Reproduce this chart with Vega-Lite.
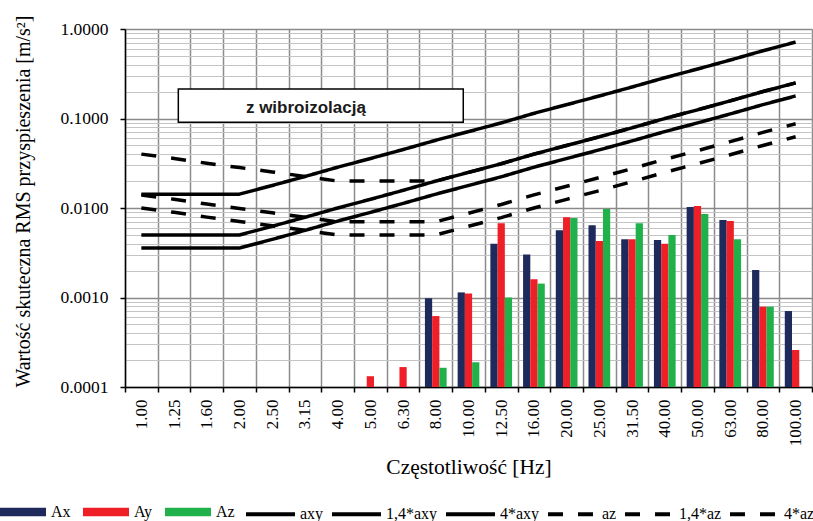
{
  "$schema": "https://vega.github.io/schema/vega-lite/v6.json",
  "width": 687,
  "height": 358,
  "autosize": {"type": "none"},
  "padding": {"left": 125, "top": 29, "right": 1, "bottom": 134},
  "background": "white",
  "config": {
    "font": "Liberation Serif",
    "view": {"stroke": null}
  },
  "layer": [
    {
      "encoding": {
        "x": {
          "field": "f",
          "type": "nominal",
          "sort": null,
          "scale": {
            "type": "band",
            "domain": ["1.00", "1.25", "1.60", "2.00", "2.50", "3.15", "4.00", "5.00", "6.30", "8.00", "10.00", "12.50", "16.00", "20.00", "25.00", "31.50", "40.00", "50.00", "63.00", "80.00", "100.00"],
            "paddingInner": 0,
            "paddingOuter": 0
          },
          "title": "Częstotliwość [Hz]",
          "axis": {
            "orient": "bottom",
            "tickBand": "extent",
            "grid": true,
            "gridColor": "#8c8c8c",
            "gridWidth": 1.5,
            "labelAngle": -90,
            "labelFont": "Liberation Serif",
            "labelFontSize": 17,
            "labelColor": "black",
            "labelPadding": 7,
            "labelOverlap": false,
            "tickSize": 5,
            "tickColor": "black",
            "tickWidth": 1.5,
            "domainColor": "black",
            "domainWidth": 1.5,
            "titleFont": "Liberation Serif",
            "titleFontSize": 21.5,
            "titleFontWeight": "normal",
            "titleColor": "black",
            "titleY": 86,
            "titleBaseline": "alphabetic"
          }
        },
        "y": {
          "field": "v",
          "type": "quantitative",
          "scale": {"type": "log", "domain": [0.0001, 1], "nice": false},
          "title": "Wartość skuteczna RMS przyspieszenia [m/s²]",
          "axis": {
            "orient": "left",
            "values": [0.0001, 0.0002, 0.0003, 0.0004, 0.0005, 0.0006, 0.0007, 0.0008, 0.0009, 0.001, 0.002, 0.003, 0.004, 0.005, 0.006, 0.007, 0.008, 0.009, 0.01, 0.02, 0.03, 0.04, 0.05, 0.06, 0.07, 0.08, 0.09, 0.1, 0.2, 0.3, 0.4, 0.5, 0.6, 0.7, 0.8, 0.9, 1],
            "labelExpr": "abs(log(datum.value)/LN10 - round(log(datum.value)/LN10)) < 0.001 ? format(datum.value, '.4f') : ''",
            "labelOverlap": false,
            "labelFont": "Liberation Serif",
            "labelFontSize": 17.5,
            "labelColor": "black",
            "labelPadding": 12,
            "grid": true,
            "gridColor": {"condition": {"test": "abs(log(datum.value)/LN10 - round(log(datum.value)/LN10)) < 0.001", "value": "#8a8a8a"}, "value": "#c4c4c4"},
            "gridWidth": {"condition": {"test": "abs(log(datum.value)/LN10 - round(log(datum.value)/LN10)) < 0.001", "value": 1.5}, "value": 1.2},
            "tickOpacity": {"condition": {"test": "abs(log(datum.value)/LN10 - round(log(datum.value)/LN10)) < 0.001", "value": 1}, "value": 0},
            "tickSize": 5,
            "tickColor": "black",
            "tickWidth": 1.5,
            "domainColor": "black",
            "domainWidth": 1.5,
            "titleFont": "Liberation Serif",
            "titleFontSize": 20,
            "titleFontWeight": "normal",
            "titleColor": "black",
            "titleX": -96,
            "titleY": 172,
            "titleBaseline": "alphabetic"
          }
        }
      },
      "layer": [
        {
          "data": {
            "values": [
              {"f": "5.00", "s": "Ay", "v": 0.000132},
              {"f": "6.30", "s": "Ay", "v": 0.000167},
              {"f": "8.00", "s": "Ax", "v": 0.00098},
              {"f": "8.00", "s": "Ay", "v": 0.00062},
              {"f": "8.00", "s": "Az", "v": 0.000164},
              {"f": "10.00", "s": "Ax", "v": 0.00114},
              {"f": "10.00", "s": "Ay", "v": 0.00111},
              {"f": "10.00", "s": "Az", "v": 0.000189},
              {"f": "12.50", "s": "Ax", "v": 0.00399},
              {"f": "12.50", "s": "Ay", "v": 0.00675},
              {"f": "12.50", "s": "Az", "v": 0.0010},
              {"f": "16.00", "s": "Ax", "v": 0.00303},
              {"f": "16.00", "s": "Ay", "v": 0.0016},
              {"f": "16.00", "s": "Az", "v": 0.00143},
              {"f": "20.00", "s": "Ax", "v": 0.00563},
              {"f": "20.00", "s": "Ay", "v": 0.00787},
              {"f": "20.00", "s": "Az", "v": 0.00773},
              {"f": "25.00", "s": "Ax", "v": 0.0064},
              {"f": "25.00", "s": "Ay", "v": 0.00428},
              {"f": "25.00", "s": "Az", "v": 0.00975},
              {"f": "31.50", "s": "Ax", "v": 0.00447},
              {"f": "31.50", "s": "Ay", "v": 0.00447},
              {"f": "31.50", "s": "Az", "v": 0.00675},
              {"f": "40.00", "s": "Ax", "v": 0.00439},
              {"f": "40.00", "s": "Ay", "v": 0.00399},
              {"f": "40.00", "s": "Az", "v": 0.00499},
              {"f": "50.00", "s": "Ax", "v": 0.01026},
              {"f": "50.00", "s": "Ay", "v": 0.01053},
              {"f": "50.00", "s": "Az", "v": 0.00857},
              {"f": "63.00", "s": "Ax", "v": 0.00734},
              {"f": "63.00", "s": "Ay", "v": 0.00716},
              {"f": "63.00", "s": "Az", "v": 0.00447},
              {"f": "80.00", "s": "Ax", "v": 0.00203},
              {"f": "80.00", "s": "Ay", "v": 0.00079},
              {"f": "80.00", "s": "Az", "v": 0.00079},
              {"f": "100.00", "s": "Ax", "v": 0.000706},
              {"f": "100.00", "s": "Ay", "v": 0.000259}
            ]
          },
          "mark": {"type": "bar"},
          "encoding": {
            "y2": {"datum": 0.0001},
            "xOffset": {
              "field": "s",
              "type": "nominal",
              "scale": {"domain": ["Ax", "Ay", "Az"], "paddingInner": 0, "paddingOuter": 0.76}
            },
            "color": {
              "field": "s",
              "type": "nominal",
              "scale": {"domain": ["Ax", "Ay", "Az"], "range": ["#1f2a5c", "#ee1f26", "#21b14b"]},
              "legend": {
                "orient": "none",
                "legendX": -125,
                "legendY": 460,
                "direction": "horizontal",
                "title": null,
                "padding": 0,
                "symbolType": "M-1,-0.18H1V0.18H-1Z",
                "symbolSize": 2116,
                "symbolStrokeWidth": 0,
                "labelFont": "Liberation Serif",
                "labelFontSize": 16,
                "labelColor": "black",
                "labelOffset": 5,
                "columnPadding": 12
              }
            }
          }
        },
        {
          "data": {
            "values": [
              {"f": "1.00", "s": "axy", "v": 0.00357}, {"f": "1.25", "s": "axy", "v": 0.00357}, {"f": "1.60", "s": "axy", "v": 0.00357}, {"f": "2.00", "s": "axy", "v": 0.00357},
              {"f": "2.50", "s": "axy", "v": 0.00446}, {"f": "3.15", "s": "axy", "v": 0.00562}, {"f": "4.00", "s": "axy", "v": 0.00714}, {"f": "5.00", "s": "axy", "v": 0.00893},
              {"f": "6.30", "s": "axy", "v": 0.01125}, {"f": "8.00", "s": "axy", "v": 0.01428}, {"f": "10.00", "s": "axy", "v": 0.01785}, {"f": "12.50", "s": "axy", "v": 0.02231},
              {"f": "16.00", "s": "axy", "v": 0.02856}, {"f": "20.00", "s": "axy", "v": 0.0357}, {"f": "25.00", "s": "axy", "v": 0.04463}, {"f": "31.50", "s": "axy", "v": 0.05623},
              {"f": "40.00", "s": "axy", "v": 0.0714}, {"f": "50.00", "s": "axy", "v": 0.08925}, {"f": "63.00", "s": "axy", "v": 0.11246}, {"f": "80.00", "s": "axy", "v": 0.1428},
              {"f": "100.00", "s": "axy", "v": 0.1785},

              {"f": "1.00", "s": "1,4*axy", "v": 0.005}, {"f": "1.25", "s": "1,4*axy", "v": 0.005}, {"f": "1.60", "s": "1,4*axy", "v": 0.005}, {"f": "2.00", "s": "1,4*axy", "v": 0.005},
              {"f": "2.50", "s": "1,4*axy", "v": 0.00625}, {"f": "3.15", "s": "1,4*axy", "v": 0.00787}, {"f": "4.00", "s": "1,4*axy", "v": 0.01}, {"f": "5.00", "s": "1,4*axy", "v": 0.0125},
              {"f": "6.30", "s": "1,4*axy", "v": 0.01575}, {"f": "8.00", "s": "1,4*axy", "v": 0.02}, {"f": "10.00", "s": "1,4*axy", "v": 0.02499}, {"f": "12.50", "s": "1,4*axy", "v": 0.03124},
              {"f": "16.00", "s": "1,4*axy", "v": 0.03998}, {"f": "20.00", "s": "1,4*axy", "v": 0.04998}, {"f": "25.00", "s": "1,4*axy", "v": 0.06248}, {"f": "31.50", "s": "1,4*axy", "v": 0.07872},
              {"f": "40.00", "s": "1,4*axy", "v": 0.09996}, {"f": "50.00", "s": "1,4*axy", "v": 0.12495}, {"f": "63.00", "s": "1,4*axy", "v": 0.15744}, {"f": "80.00", "s": "1,4*axy", "v": 0.19992},
              {"f": "100.00", "s": "1,4*axy", "v": 0.2499},

              {"f": "1.00", "s": "4*axy", "v": 0.01428}, {"f": "1.25", "s": "4*axy", "v": 0.01428}, {"f": "1.60", "s": "4*axy", "v": 0.01428}, {"f": "2.00", "s": "4*axy", "v": 0.01428},
              {"f": "2.50", "s": "4*axy", "v": 0.01785}, {"f": "3.15", "s": "4*axy", "v": 0.02249}, {"f": "4.00", "s": "4*axy", "v": 0.02856}, {"f": "5.00", "s": "4*axy", "v": 0.0357},
              {"f": "6.30", "s": "4*axy", "v": 0.04498}, {"f": "8.00", "s": "4*axy", "v": 0.05712}, {"f": "10.00", "s": "4*axy", "v": 0.0714}, {"f": "12.50", "s": "4*axy", "v": 0.08925},
              {"f": "16.00", "s": "4*axy", "v": 0.11424}, {"f": "20.00", "s": "4*axy", "v": 0.1428}, {"f": "25.00", "s": "4*axy", "v": 0.1785}, {"f": "31.50", "s": "4*axy", "v": 0.22491},
              {"f": "40.00", "s": "4*axy", "v": 0.2856}, {"f": "50.00", "s": "4*axy", "v": 0.357}, {"f": "63.00", "s": "4*axy", "v": 0.44982}, {"f": "80.00", "s": "4*axy", "v": 0.5712},
              {"f": "100.00", "s": "4*axy", "v": 0.714},

              {"f": "1.00", "s": "az", "v": 0.01}, {"f": "1.25", "s": "az", "v": 0.00894}, {"f": "1.60", "s": "az", "v": 0.00791}, {"f": "2.00", "s": "az", "v": 0.00707},
              {"f": "2.50", "s": "az", "v": 0.00632}, {"f": "3.15", "s": "az", "v": 0.00563}, {"f": "4.00", "s": "az", "v": 0.005}, {"f": "5.00", "s": "az", "v": 0.005},
              {"f": "6.30", "s": "az", "v": 0.005}, {"f": "8.00", "s": "az", "v": 0.005}, {"f": "10.00", "s": "az", "v": 0.00625}, {"f": "12.50", "s": "az", "v": 0.00781},
              {"f": "16.00", "s": "az", "v": 0.01}, {"f": "20.00", "s": "az", "v": 0.0125}, {"f": "25.00", "s": "az", "v": 0.01563}, {"f": "31.50", "s": "az", "v": 0.01969},
              {"f": "40.00", "s": "az", "v": 0.025}, {"f": "50.00", "s": "az", "v": 0.03125}, {"f": "63.00", "s": "az", "v": 0.03938}, {"f": "80.00", "s": "az", "v": 0.05},
              {"f": "100.00", "s": "az", "v": 0.0625},

              {"f": "1.00", "s": "1,4*az", "v": 0.014}, {"f": "1.25", "s": "1,4*az", "v": 0.01252}, {"f": "1.60", "s": "1,4*az", "v": 0.01107}, {"f": "2.00", "s": "1,4*az", "v": 0.0099},
              {"f": "2.50", "s": "1,4*az", "v": 0.00885}, {"f": "3.15", "s": "1,4*az", "v": 0.00789}, {"f": "4.00", "s": "1,4*az", "v": 0.007}, {"f": "5.00", "s": "1,4*az", "v": 0.007},
              {"f": "6.30", "s": "1,4*az", "v": 0.007}, {"f": "8.00", "s": "1,4*az", "v": 0.007}, {"f": "10.00", "s": "1,4*az", "v": 0.00875}, {"f": "12.50", "s": "1,4*az", "v": 0.01094},
              {"f": "16.00", "s": "1,4*az", "v": 0.014}, {"f": "20.00", "s": "1,4*az", "v": 0.0175}, {"f": "25.00", "s": "1,4*az", "v": 0.02188}, {"f": "31.50", "s": "1,4*az", "v": 0.02756},
              {"f": "40.00", "s": "1,4*az", "v": 0.035}, {"f": "50.00", "s": "1,4*az", "v": 0.04375}, {"f": "63.00", "s": "1,4*az", "v": 0.05513}, {"f": "80.00", "s": "1,4*az", "v": 0.07},
              {"f": "100.00", "s": "1,4*az", "v": 0.0875},

              {"f": "1.00", "s": "4*az", "v": 0.04}, {"f": "1.25", "s": "4*az", "v": 0.03578}, {"f": "1.60", "s": "4*az", "v": 0.03162}, {"f": "2.00", "s": "4*az", "v": 0.02828},
              {"f": "2.50", "s": "4*az", "v": 0.0253}, {"f": "3.15", "s": "4*az", "v": 0.02254}, {"f": "4.00", "s": "4*az", "v": 0.02}, {"f": "5.00", "s": "4*az", "v": 0.02},
              {"f": "6.30", "s": "4*az", "v": 0.02}, {"f": "8.00", "s": "4*az", "v": 0.02}, {"f": "10.00", "s": "4*az", "v": 0.025}, {"f": "12.50", "s": "4*az", "v": 0.03125},
              {"f": "16.00", "s": "4*az", "v": 0.04}, {"f": "20.00", "s": "4*az", "v": 0.05}, {"f": "25.00", "s": "4*az", "v": 0.0625}, {"f": "31.50", "s": "4*az", "v": 0.07875},
              {"f": "40.00", "s": "4*az", "v": 0.1}, {"f": "50.00", "s": "4*az", "v": 0.125}, {"f": "63.00", "s": "4*az", "v": 0.1575}, {"f": "80.00", "s": "4*az", "v": 0.2},
              {"f": "100.00", "s": "4*az", "v": 0.25}
            ]
          },
          "mark": {"type": "line", "color": "black", "strokeWidth": 3.5, "strokeCap": "butt", "strokeJoin": "round"},
          "encoding": {
            "detail": {"field": "s", "type": "nominal"},
            "strokeDash": {
              "field": "s",
              "type": "nominal",
              "scale": {
                "domain": ["axy", "1,4*axy", "4*axy", "az", "1,4*az", "4*az"],
                "range": [[1, 0], [1, 0], [1, 0], [15, 15], [15, 15], [15, 15]]
              },
              "legend": {
                "orient": "none",
                "legendX": 119,
                "legendY": 458.5,
                "direction": "horizontal",
                "title": null,
                "padding": 0,
                "symbolType": "stroke",
                "symbolSize": 2401,
                "symbolStrokeWidth": 4,
                "symbolStrokeColor": "black",
                "labelFont": "Liberation Serif",
                "labelFontSize": 16,
                "labelColor": "black",
                "labelOffset": 3,
                "columnPadding": 0
              }
            }
          }
        }
      ]
    },
    {
      "data": {"values": [{}]},
      "layer": [
        {
          "mark": {"type": "rect", "fill": "white", "stroke": "black", "strokeWidth": 1.5},
          "encoding": {
            "x": {"datum": 1.63, "type": "quantitative", "scale": {"domain": [0, 21], "nice": false, "zero": false}, "axis": null},
            "x2": {"datum": 10.34},
            "y": {"datum": 0.2136, "type": "quantitative", "scale": {"type": "log", "domain": [0.0001, 1], "nice": false}, "axis": null},
            "y2": {"datum": 0.0907}
          }
        },
        {
          "mark": {"type": "text", "font": "Liberation Sans", "fontWeight": "bold", "fontSize": 17, "align": "center", "baseline": "alphabetic", "color": "#1a1a1a"},
          "encoding": {
            "x": {"datum": 5.53, "type": "quantitative", "scale": {"domain": [0, 21], "nice": false, "zero": false}, "axis": null},
            "y": {"datum": 0.1143, "type": "quantitative", "scale": {"type": "log", "domain": [0.0001, 1], "nice": false}, "axis": null},
            "text": {"value": "z wibroizolacją"}
          }
        }
      ]
    }
  ],
  "resolve": {
    "scale": {"x": "independent", "y": "independent"},
    "axis": {"x": "independent", "y": "independent"}
  }
}
